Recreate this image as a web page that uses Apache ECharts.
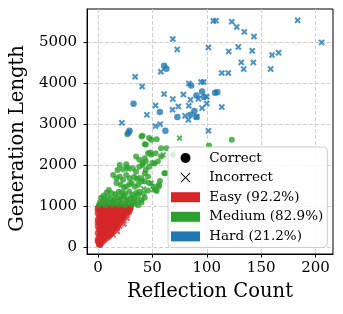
<!DOCTYPE html>
<html><head><meta charset="utf-8">
<script src="https://cdn.jsdelivr.net/npm/echarts@6/dist/echarts.min.js"></script>
<style>html,body{margin:0;padding:0;background:#fff}#c{width:343px;height:314px}</style>
</head><body><div id="c"></div>
<script>
const xTicks = [0, 50, 100, 150, 200];
const yTicks = [0, 1000, 2000, 3000, 4000, 5000];
const legendNames = ['Correct', 'Incorrect', 'Easy (92.2%)', 'Medium (82.9%)', 'Hard (21.2%)'];

const easyCorrect = [
 [1,985],[4,975],[7,990],[10,980],[13,985],[16,975],[19,990],[22,980],[25,985],[28,975],[30,965],
 [0,905],[3,895],[6,910],[9,900],[12,890],[15,905],[18,900],[21,895],[24,910],[27,900],[29,880],
 [0,825],[3,815],[6,830],[9,820],[12,810],[15,825],[18,820],[21,815],[24,830],[26,810],[28,840],
 [1,745],[4,735],[7,750],[10,740],[13,730],[16,745],[19,740],[22,735],[24,750],
 [0,665],[3,655],[6,670],[9,660],[12,650],[15,665],[18,660],[21,655],[23,680],
 [1,585],[4,575],[7,590],[10,580],[13,570],[16,585],[19,580],[20,600],
 [0,505],[3,495],[6,510],[9,500],[12,490],[15,505],[18,500],[17,470],
 [1,425],[4,415],[7,430],[10,420],[13,410],[15,430],
 [0,345],[3,335],[6,350],[9,340],[12,330],[11,300],
 [1,265],[4,255],[7,270],[10,260],[8,220],
 [0,185],[3,175],[6,190],[5,150],
 [1,115],[3,105],[2,80],
 [1,60],[2,55],[0,140],[0,600],[0,950],[2,450],
 [2,945],[5,940],[8,945],[11,935],[14,945],[17,940],[20,945],[23,935],[26,945],[29,930],
 [2,860],[5,855],[8,865],[11,850],[14,860],[17,865],[20,855],[23,860],[26,870],
 [2,780],[5,775],[8,790],[11,770],[14,785],[17,780],[20,775],[23,790],
 [2,700],[5,695],[8,710],[11,690],[14,705],[17,700],[20,695],
 [2,620],[5,615],[8,630],[11,610],[14,625],[17,620],
 [2,540],[5,535],[8,550],[11,530],[14,545],[16,540],
 [2,380],[5,375],[8,390],[11,370],[13,380],
 [2,300],[5,295],[8,305],
 [2,225],[4,215],[1,160]
];
const easyIncorrect = [
 [27,700],[24,560],[30,950],[18,380],[26,850],[20,510],[14,300],[22,640]
];
const mediumCorrect = [
 [1,1030],[4,1060],[7,1020],[10,1080],[13,1040],[16,1070],[19,1030],[22,1060],[25,1020],[28,1080],[31,1040],[34,1060],[37,1020],[40,1090],
 [2,1100],[8,1120],[14,1110],[20,1130],[26,1120],[32,1100],
 [3,1200],[6,1160],[9,1230],[12,1180],[15,1150],[18,1210],[21,1170],[24,1240],[27,1160],[30,1200],[33,1180],[36,1150],[40,1150],[43,1200],[5,1250],
 [10,1390],[13,1310],[16,1280],[19,1350],[22,1330],[25,1300],[29,1350],[32,1270],[35,1320],[37,1270],[38,1350],[42,1300],[46,1380],[53,1390],[8,1330],
 [17,1560],[21,1520],[24,1450],[26,1480],[29,1530],[31,1560],[34,1470],[37,1520],[40,1600],[43,1600],[47,1560],[51,1480],[56,1480],
 [14,1760],[17,1680],[20,1720],[23,1640],[26,1760],[29,1680],[33,1710],[36,1660],[40,1680],[43,1800],[46,1720],[62,1800],[57,1610],
 [18,1880],[20,2000],[23,1900],[27,1950],[32,1920],[35,1840],[38,1960],[41,2000],[44,1880],[47,1960],
 [26,2020],[38,2130],[41,2050],[44,2090],[50,2050],[52,2040],[55,2090],[35,2210],[43,2170],[58,2210],
 [46,2290],[49,2250],[53,2290],[44,2500],[48,2310],[58,2410],[63,2410],
 [27,2750],[40,2700],[41,2714],[47,2660],[49,2620],[54,2630],[123,2616],[102,2480],[69,2250],[43,2510],
 [56,1520],[54,1370],[61,1800]
];
const mediumIncorrect = [
 [75,2660],[60,2250],[49,1560],[51,1400],[36,1700],[22,1250],[42,1420],[28,1900]
];
const hardCorrect = [
 [60.8,4425],[62.9,4352],[85.6,3944],[95.7,3797],[90.5,3700],[97.5,3660],[107.6,3765],[109.7,3775],
 [32.7,3496],[88.6,3318],[56.9,3293],[73,3171],[85,3227],[90.5,3171],[29,2836],[28,2790],[62,2836]
];
const hardIncorrect = [
 [106,5520],[108.5,5525],[123,5500],[127.5,5370],[134.5,5250],[143.4,5140],[183.5,5533],[205.5,4995],
 [68.8,5078],[72.8,4824],[101.5,4873],[120.2,4775],[129,4882],[141.8,4792],[160,4687],[166,4743],
 [131.7,4506],[142.8,4506],[133.9,4344],[158.7,4344],[113.8,4247],[119.8,4247],[57.8,4279],[34.2,4156],
 [40.6,3919],[83.5,3993],[94.8,4027],[97.2,4027],[78.5,3724],[100,3667],[60.8,3733],[68.8,3611],
 [85,3594],[92.3,3619],[52.9,3455],[73.9,3430],[83.5,3447],[100,3504],[95.7,3391],[113.8,3416],
 [68.5,3350],[45,3227],[80.1,3203],[83.1,3105],[22,3032],[52.9,2951],[57.2,3000],[101.5,2836],[90.8,3178]
];

const FONT = 'DejaVu Serif';
const XMARK = 'path://M0,2.2L2.2,0L5,2.8L7.8,0L10,2.2L7.2,5L10,7.8L7.8,10L5,7.2L2.2,10L0,7.8L2.8,5Z';
const XTHIN = 'path://M0,0.7L0.7,0L5,4.3L9.3,0L10,0.7L5.7,5L10,9.3L9.3,10L5,5.7L0.7,10L0,9.3L4.3,5Z';
const RED = '#d62728', GREEN = '#2ca02c', BLUE = '#1f77b4';

function sc(name, data, color, symbol, size, op) {
  return { type: 'scatter', name: name, data: data, symbol: symbol, symbolSize: size,
    itemStyle: { color: color, opacity: op }, emphasis: { disabled: true }, silent: true, animation: false };
}
const series = [
  sc('easyC', easyCorrect, RED, 'circle', 6.5, 0.75),
  sc('easyX', easyIncorrect, RED, XMARK, 6, 0.75),
  sc('medC', mediumCorrect, GREEN, 'circle', 6, 0.8),
  sc('medX', mediumIncorrect, GREEN, XMARK, 6, 0.8),
  sc('hardC', hardCorrect, BLUE, 'circle', 6.5, 0.8),
  sc('hardX', hardIncorrect, BLUE, XMARK, 6.5, 0.8),
  sc(legendNames[0], [], '#000', 'circle', 6, 1),
  Object.assign(sc(legendNames[1], [], '#000', XTHIN, 6, 1), { symbolKeepAspect: true }),
  sc(legendNames[2], [], RED, 'rect', 6, 1),
  sc(legendNames[3], [], GREEN, 'rect', 6, 1),
  sc(legendNames[4], [], BLUE, 'rect', 6, 1)
];

const chart = echarts.init(document.getElementById('c'), null, { renderer: 'canvas' });
chart.setOption({
  animation: false,
  backgroundColor: '#fff',
  grid: { left: 87, right: 10, top: 9, bottom: 60, show: true, borderColor: '#000', borderWidth: 1, backgroundColor: 'transparent' },
  xAxis: {
    type: 'value', min: -10, max: 216,
    name: 'Reflection Count', nameLocation: 'middle', nameGap: 28,
    nameTextStyle: { fontFamily: FONT, fontSize: 19.5, color: '#000' },
    axisLine: { show: true, onZero: false, lineStyle: { color: '#000', width: 1 } },
    axisTick: { show: true, length: 3.5, lineStyle: { color: '#000' }, customValues: xTicks },
    axisLabel: { fontFamily: FONT, fontSize: 15, color: '#000', margin: 7, customValues: xTicks, formatter: v => String(v) },
    splitLine: { show: true, lineStyle: { color: '#cfcfcf', type: [4, 2], width: 1 } }
  },
  yAxis: {
    type: 'value', min: -170, max: 5810,
    name: 'Generation Length', nameLocation: 'middle', nameGap: 56,
    nameTextStyle: { fontFamily: FONT, fontSize: 19.5, color: '#000', padding: [0, 14, 0, 0] },
    axisLine: { show: true, onZero: false, lineStyle: { color: '#000', width: 1 } },
    axisTick: { show: true, length: 3.5, lineStyle: { color: '#000' }, customValues: yTicks },
    axisLabel: { fontFamily: FONT, fontSize: 15, color: '#000', margin: 10, customValues: yTicks, formatter: v => String(v) },
    splitLine: { show: true, lineStyle: { color: '#cfcfcf', type: [4, 2], width: 1 } }
  },
  legend: {
    orient: 'vertical', left: 168, top: 147,
    backgroundColor: 'rgba(255,255,255,0.8)', borderColor: '#cccccc', borderWidth: 1, borderRadius: 4,
    padding: [3, 4, 3, 3], itemWidth: 29, itemHeight: 10, itemGap: 3.6,
    textStyle: { fontFamily: FONT, fontSize: 13.5, color: '#000', lineHeight: 16 },
    formatter: n => ' ' + n,
    selectedMode: false,
    data: [
      { name: legendNames[0], icon: 'circle' },
      { name: legendNames[1], icon: XTHIN },
      { name: legendNames[2], icon: 'rect' },
      { name: legendNames[3], icon: 'rect' },
      { name: legendNames[4], icon: 'rect' }
    ]
  },
  series: series
});
</script></body></html>
